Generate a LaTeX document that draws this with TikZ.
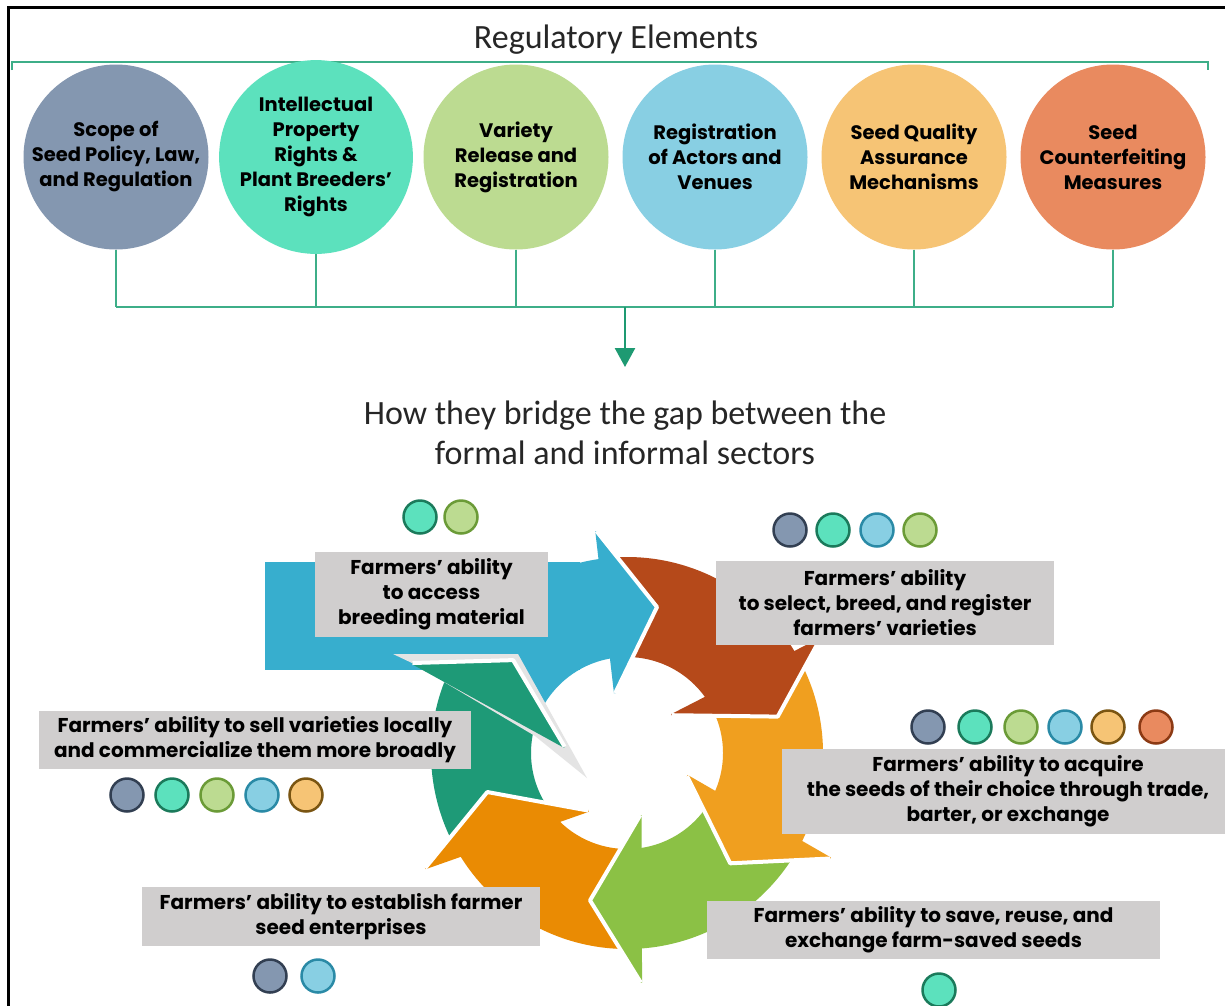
\documentclass[tikz,border=0pt]{standalone}
\usepackage{fontspec}
\setmainfont{Poppins}
\newfontfamily\calib{Carlito}
\usetikzlibrary{calc,arrows.meta}
\definecolor{cslate}{HTML}{8497B0}
\definecolor{cmint}{HTML}{5CE1BD}
\definecolor{clgreen}{HTML}{BCDB91}
\definecolor{clblue}{HTML}{88CFE3}
\definecolor{clorange}{HTML}{F6C475}
\definecolor{ccoral}{HTML}{E98A5F}
\definecolor{oslate}{HTML}{323F52}
\definecolor{omint}{HTML}{1B7A5B}
\definecolor{olgreen}{HTML}{6B9B37}
\definecolor{olblue}{HTML}{2A8AA6}
\definecolor{olorange}{HTML}{7A5512}
\definecolor{ocoral}{HTML}{8C3A14}
\definecolor{ablue}{HTML}{37AECE}
\definecolor{abrown}{HTML}{B5491A}
\definecolor{aorange}{HTML}{F09F1F}
\definecolor{agreen}{HTML}{8BC145}
\definecolor{adorange}{HTML}{EA8B03}
\definecolor{ateal}{HTML}{1E9A77}
\definecolor{boxgray}{HTML}{D0CECE}
\definecolor{shadowgray}{HTML}{E4E4E4}
\definecolor{clink}{HTML}{3DAE88}
\definecolor{arrowgreen}{HTML}{1E9A72}
\definecolor{titlegray}{HTML}{262626}
\newcommand\circfont{\fontsize{19.5}{25}\selectfont\bfseries}
\newcommand\boxfont{\fontsize{20}{25}\selectfont\bfseries}
\newcommand\titlefont{\calib\fontsize{34}{40}\selectfont}
% body of a ring arrow: colour, outer start, outer end, inner start, inner end
\newcommand\ringbody[5]{%
  \fill[#1] ($(C)+(#2:196)$) arc[start angle=#2, end angle=#3, radius=196]
    -- ($(C)+(#4:96)$) arc[start angle=#4, end angle=#5, radius=96] -- cycle;}
% head: colour, outer barb, tip, inner barb
\newcommand\ringhead[4]{%
  \fill[#1] #2 -- #3 -- #4 -- cycle;
  \draw[#1, line width=2.5pt] #2 -- #4;
  \draw[white, line width=4pt, line join=round] #2 -- #3 -- #4;}
\begin{document}
\begin{tikzpicture}[x=1pt,y=-1pt,
  bigc/.style={circle, minimum size=185pt, inner sep=0pt, align=center, font=\circfont, text=black},
  gbox/.style={fill=boxgray, inner sep=0pt, align=center, font=\boxfont, text=black},
  scirc/.style={circle, minimum size=33pt, inner sep=0pt, line width=2.5pt},
  sslate/.style={scirc, fill=cslate, draw=oslate},
  smint/.style={scirc, fill=cmint, draw=omint},
  slgreen/.style={scirc, fill=clgreen, draw=olgreen},
  slblue/.style={scirc, fill=clblue, draw=olblue},
  slorange/.style={scirc, fill=clorange, draw=olorange},
  scoral/.style={scirc, fill=ccoral, draw=ocoral},
  conn/.style={draw=clink, line width=1.6pt},
  frame/.style={draw=black, line width=2.5pt}]
\useasboundingbox (0,0) rectangle (1225,1005);
\fill[white] (0,0) rectangle (1225,1005);

% frame
\coordinate (fbl) at (8.3,1010);
\coordinate (ftl) at (8.3,7.5);
\coordinate (ftr) at (1230,7.5);
\draw[frame] (fbl) -- (ftl) -- (ftr);

% title
\node[font=\titlefont, text=titlegray] (title) at (616,40) {Regulatory Elements};
\coordinate (brl) at (12,70);
\coordinate (brr) at (1208,70);
\draw[conn, line width=2pt] (brl) -- (brl |- 0,62) -- (brr |- 0,62) -- (brr);

% regulatory circles
\node[bigc, fill=cslate]   (c1) at (116,157) {Scope of\\Seed Policy, Law,\\and Regulation};
\node[bigc, fill=cmint]    (c2) at (316,157) {Intellectual\\Property\\Rights \&\\Plant Breeders’\\Rights};
\node[bigc, fill=clgreen]  (c3) at (516,157) {Variety\\Release and\\Registration};
\node[bigc, fill=clblue]   (c4) at (715,157) {Registration\\of Actors and\\Venues};
\node[bigc, fill=clorange] (c5) at (914,157) {Seed Quality\\Assurance\\Mechanisms};
\node[bigc, fill=ccoral]   (c6) at (1113,157) {Seed\\Counterfeiting\\Measures};

\coordinate (bus) at (625,307);
\foreach \c in {c1,c2,c3,c4,c5,c6}{\draw[conn] (\c.south) -- (\c.south |- bus);}
\draw[conn, line width=2.5pt] (c1.south |- bus) -- (c6.south |- bus);
\coordinate (arrowend) at (625,367);
\draw[arrowgreen, line width=2.5pt, -{Triangle[width=20pt,length=19pt]}] (bus) -- (arrowend);

\node[text=titlegray, align=center, font=\calib\fontsize{34}{40}\selectfont] (how) at (625,433)
  {How they bridge the gap between the\\formal and informal sectors};

% cycle of arrows
\coordinate (C) at (627,753);
\fill[ablue] (265,562) rectangle (580,670);
\ringbody{ablue}{201.6}{262}{260.5}{194}
\ringbody{abrown}{-98}{-31}{-35}{-99.5}
\ringbody{aorange}{-31}{27}{24}{-35}
\ringbody{agreen}{27}{86}{82}{24}
\ringbody{adorange}{86}{148.4}{135}{82}
\ringbody{ateal}{148.4}{201.6}{194}{135}
\fill[shadowgray] (393,654) -- (518,654) -- (587,778) -- (535,736) -- (412,663) -- cycle;
\ringhead{ablue}{(596.5,531.1)}{(657,607)}{(615.2,693.1)}
\ringhead{abrown}{(819.9,639.3)}{(777.7,716.6)}{(671.8,715.2)}
\ringhead{aorange}{(830.2,858.5)}{(730.2,863.3)}{(687,776)}
\ringhead{agreen}{(640.8,982.5)}{(590,900.4)}{(640.3,815.1)}
\ringhead{adorange}{(425.2,868)}{(487.3,792)}{(588.4,810.6)}
\ringhead{ateal}{(412.4,663)}{(513.1,660.1)}{(564.6,746.7)}

% text boxes
\node[gbox, minimum width=233pt, minimum height=85pt] (bA) at (431.5,594.5) {Farmers’ ability\\to access\\breeding material};
\node[gbox, minimum width=338pt, minimum height=84pt] (bB) at (885,603) {Farmers’ ability\\to select, breed, and register\\farmers’ varieties};
\node[gbox, minimum width=452pt, minimum height=85pt] (bC) at (1008,791.5) {Farmers’ ability to acquire\\the seeds of their choice through trade,\\barter, or exchange};
\node[gbox, minimum width=453pt, minimum height=58pt] (bD) at (933.5,930) {Farmers’ ability to save, reuse, and\\exchange farm-saved seeds};
\node[gbox, minimum width=398pt, minimum height=59pt] (bE) at (341,916.5) {Farmers’ ability to establish farmer\\seed enterprises};
\node[gbox, minimum width=432pt, minimum height=58pt] (bF) at (255,740) {Farmers’ ability to sell varieties locally\\and commercialize them more broadly};

% small indicator circles
\node[smint]   (a1) at (420,517) {};
\node[slgreen] (a2) at (461,517) {};
\node[sslate]  (b1) at (790,530) {};
\node[smint]   (b2) at (833,530) {};
\node[slblue]  (b3) at (877,530) {};
\node[slgreen] (b4) at (920,530) {};
\node[sslate]  (k1) at (928,727) {};
\node[smint]   (k2) at (975,727) {};
\node[slgreen] (k3) at (1021,727) {};
\node[slblue]  (k4) at (1065,727) {};
\node[slorange](k5) at (1108,727) {};
\node[scoral]  (k6) at (1156,727) {};
\node[sslate]  (f1) at (127,795) {};
\node[smint]   (f2) at (172,795) {};
\node[slgreen] (f3) at (217,795) {};
\node[slblue]  (f4) at (262,795) {};
\node[slorange](f5) at (306,795) {};
\node[sslate]  (e1) at (270,976) {};
\node[slblue]  (e2) at (318,976) {};
\node[smint]   (d1) at (939,990) {};
\end{tikzpicture}
\end{document}
